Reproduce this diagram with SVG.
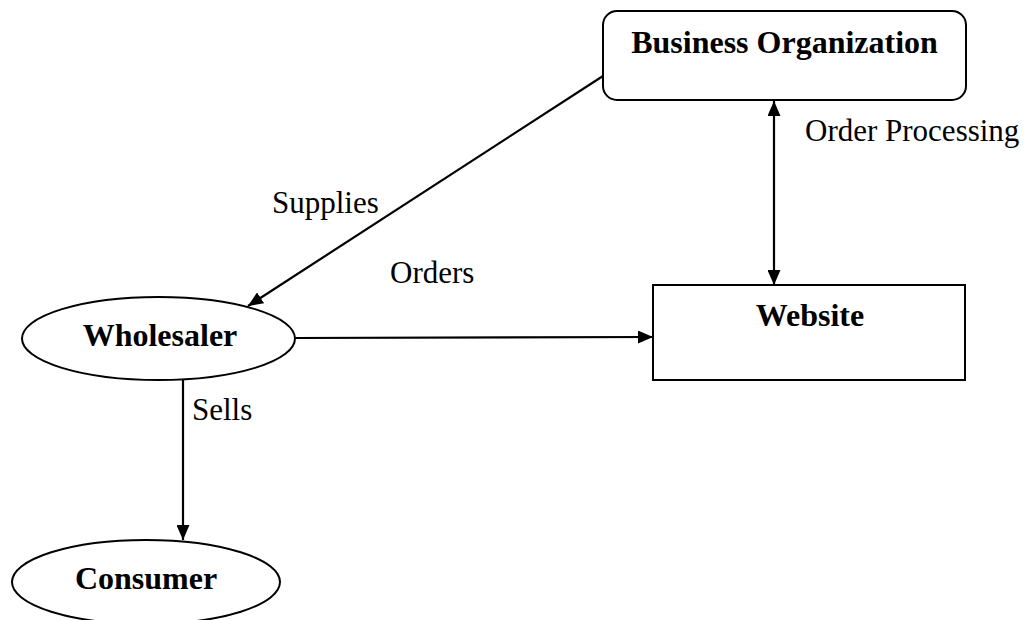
<svg xmlns="http://www.w3.org/2000/svg" width="1027" height="620" viewBox="0 0 1027 620">
<style>
.shape{fill:#fff;stroke:#000;stroke-width:2}
.title{font-family:"Liberation Serif","Times New Roman",serif;font-weight:bold;font-size:32px;fill:#000}
.lbl{font-family:"Liberation Serif","Times New Roman",serif;font-size:31px;fill:#000}
.conn{stroke:#000;stroke-width:2.2;fill:none}
</style>
<defs>
<marker id="ah" viewBox="0 0 15 13" refX="15" refY="6.5" markerWidth="15" markerHeight="13" markerUnits="userSpaceOnUse" orient="auto-start-reverse">
<path d="M0,0 L15,6.5 L0,13 Z" fill="#000"/>
</marker>
</defs>
<rect width="1027" height="620" fill="#fff"/>
<g id="connectors">
<line class="conn" x1="603" y1="76" x2="248" y2="306" marker-end="url(#ah)"/>
<line class="conn" x1="295" y1="338" x2="653" y2="337" marker-end="url(#ah)"/>
<line class="conn" x1="774" y1="101" x2="774" y2="285" marker-start="url(#ah)" marker-end="url(#ah)"/>
<line class="conn" x1="183" y1="380" x2="183" y2="540" marker-end="url(#ah)"/>
<text class="lbl" x="272" y="213">Supplies</text>
<text class="lbl" x="390" y="283">Orders</text>
<text class="lbl" x="805" y="141">Order Processing</text>
<text class="lbl" x="192" y="420">Sells</text>
</g>
<g id="business-organization">
<rect class="shape" x="603" y="11" width="363" height="89" rx="14"/>
<text class="title" x="784.5" y="53" text-anchor="middle">Business Organization</text>
</g>
<g id="wholesaler">
<ellipse class="shape" cx="158.5" cy="338.5" rx="136.5" ry="41.5"/>
<text class="title" x="160" y="346" text-anchor="middle">Wholesaler</text>
</g>
<g id="website">
<rect class="shape" x="653" y="285" width="312" height="95"/>
<text class="title" x="810" y="326" text-anchor="middle">Website</text>
</g>
<g id="consumer">
<ellipse class="shape" cx="146" cy="582" rx="134" ry="42"/>
<text class="title" x="146" y="589" text-anchor="middle">Consumer</text>
</g>
</svg>
